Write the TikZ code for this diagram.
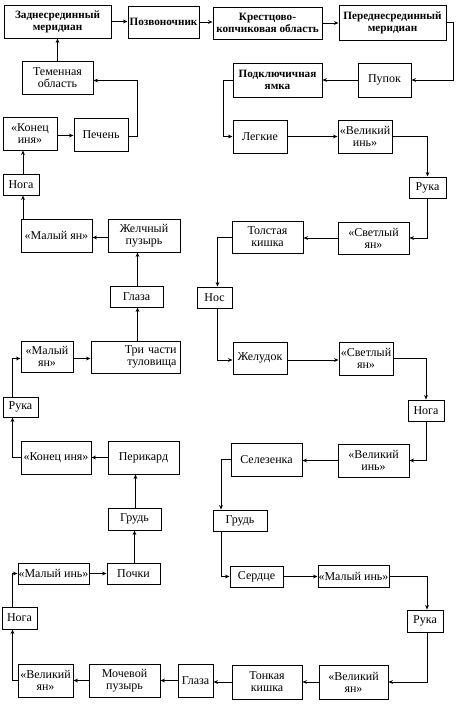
\documentclass[tikz,border=0pt]{standalone}
\usepackage{fontspec}
\setmainfont{Liberation Serif}
\usetikzlibrary{arrows.meta}
\tikzset{
  box/.style={draw, line width=1pt, inner sep=0.5pt, align=center, font=\fontsize{12}{12}\selectfont},
  bbox/.style={box, font=\bfseries\fontsize{11.2}{12}\selectfont},
  arr/.style={line width=0.75pt, -{Stealth[length=4.5pt,width=3.8pt]}},
}
\newcommand{\bx}[7][]{%
  \pgfmathsetmacro\bxcx{(#3+#5)/2}\pgfmathsetmacro\bxcy{(#4+#6)/2}%
  \pgfmathsetmacro\bxw{#5-#3}\pgfmathsetmacro\bxh{#6-#4}%
  \node[box,minimum width=\bxw pt,minimum height=\bxh pt,#1] (#2) at (\bxcx pt,-\bxcy pt) {#7};}
\begin{document}
\begin{tikzpicture}
\useasboundingbox (0,0) rectangle (460pt,-704pt);
% nodes
\bx[bbox]{zad}{4}{5}{111}{38}{Заднесрединный\\меридиан}
\bx[bbox]{poz}{128}{6}{199}{38}{Позвоночник}
\bx[bbox]{kre}{213}{7}{322}{39}{Крестцово-\\копчиковая область}
\bx[bbox]{per}{339}{5}{446}{40}{Переднесрединный\\меридиан}
\bx{tem}{22}{61}{93}{94}{Теменная\\область}
\bx[bbox]{pod}{233}{63}{322}{97}{Подключичная\\ямка}
\bx{pup}{358}{63}{411}{97}{Пупок}
\bx{kon1}{3}{117}{57}{150}{«Конец\\иня»}
\bx{pech}{74}{118}{128}{151}{Печень}
\bx{leg}{233}{120}{287}{153}{Легкие}
\bx{vin1}{338}{120}{392}{153}{«Великий\\инь»}
\bx{noga1}{3}{174}{39}{195}{Нога}
\bx{ruka1}{409}{177}{446}{198}{Рука}
\bx{mya1}{21}{219}{92}{252}{«Малый ян»}
\bx{zhel}{108}{219}{180}{252}{Желчный\\пузырь}
\bx{tol}{232}{221}{303}{253}{Толстая\\кишка}
\bx{svy1}{338}{222}{409}{254}{«Светлый\\ян»}
\bx{glaz1}{110}{286}{163}{307}{Глаза}
\bx{nos}{197}{287}{232}{308}{Нос}
\bx{mya2}{21}{341}{73}{372}{«Малый\\ян»}
\bx[align=right,text width=82pt]{tri}{91}{341}{180}{373}{Три части\\туловища}
\bx{zhe}{233}{342}{287}{374}{Желудок}
\bx{svy2}{339}{342}{393}{375}{«Светлый\\ян»}
\bx{ruka2}{3}{397}{38}{417}{Рука}
\bx{noga2}{408}{400}{444}{421}{Нога}
\bx{kon2}{21}{441}{91}{474}{«Конец иня»}
\bx{peri}{108}{441}{179}{474}{Перикард}
\bx{sel}{231}{443}{302}{476}{Селезенка}
\bx{vin2}{338}{444}{409}{477}{«Великий\\инь»}
\bx{gru1}{108}{508}{161}{530}{Грудь}
\bx{gru2}{213}{510}{267}{531}{Грудь}
\bx{min1}{18}{563}{89}{584}{«Малый инь»}
\bx{poch}{107}{563}{160}{584}{Почки}
\bx{ser}{230}{566}{283}{587}{Сердце}
\bx{min2}{318}{565}{389}{587}{«Малый инь»}
\bx{noga3}{2}{607}{37}{629}{Нога}
\bx{ruka3}{407}{610}{443}{632}{Рука}
\bx{vya1}{18}{664}{73}{697}{«Великий\\ян»}
\bx{moch}{89}{664}{160}{697}{Мочевой\\пузырь}
\bx{glaz2}{178}{664}{213}{697}{Глаза}
\bx{ton}{232}{665}{302}{699}{Тонкая\\кишка}
\bx{vya2}{319}{665}{388}{699}{«Великий\\ян»}
% connectors
\draw[arr] (zad.east) -- (zad.east -| poz.west);
\draw[arr] (poz.east) -- (poz.east -| kre.west);
\draw[arr] (kre.east) -- (kre.east -| per.west);
\draw[arr] (per.east) -- ++(7pt,0) |- (pup.east);
\draw[arr] (pup.west) -- (pup.west -| pod.east);
\draw[arr] (pod.west) -- ++(-9pt,0) |- (leg.west);
\draw[arr] (leg.east) -- (leg.east -| vin1.west);
\draw[arr] (vin1.east) -| (ruka1.north);
\draw[arr] (ruka1.south) |- (svy1.east);
\draw[arr] (svy1.west) -- (svy1.west -| tol.east);
\draw[arr] (tol.west) -| ([xshift=3pt]nos.north);
\draw[arr] ([xshift=3pt]nos.south) |- ([yshift=-2pt]zhe.west);
\draw[arr] ([yshift=-2pt]zhe.east) -- ([yshift=-2pt]zhe.east -| svy2.west);
\draw[arr] (svy2.east) -| (noga2.north);
\draw[arr] (noga2.south) |- (vin2.east);
\draw[arr] (vin2.west) -- (vin2.west -| sel.east);
\draw[arr] (sel.west) -| ([xshift=-19pt]gru2.north);
\draw[arr] ([xshift=-19pt]gru2.south) |- (ser.west);
\draw[arr] (ser.east) -- (ser.east -| min2.west);
\draw[arr] (min2.east) -| ([xshift=2pt]ruka3.north);
\draw[arr] ([xshift=2pt]ruka3.south) |- (vya2.east);
\draw[arr] (vya2.west) -- (vya2.west -| ton.east);
\draw[arr] (ton.west) -- (ton.west -| glaz2.east);
\draw[arr] (glaz2.west) -- (glaz2.west -| moch.east);
\draw[arr] (moch.west) -- (moch.west -| vya1.east);
\draw[arr] (vya1.west) -| ([xshift=-7pt]noga3.south);
\draw[arr] ([xshift=-7pt]noga3.north) |- (min1.west);
\draw[arr] (min1.east) -- (min1.east -| poch.west);
\draw[arr] ([xshift=1pt]poch.north) -- ([xshift=1pt]poch.north |- gru1.south);
\draw[arr] ([xshift=1pt]gru1.north) -- ([xshift=1pt]gru1.north |- peri.south);
\draw[arr] (peri.west) -- (peri.west -| kon2.east);
\draw[arr] (kon2.west) -| ([xshift=-8pt]ruka2.south);
\draw[arr] ([xshift=-8pt]ruka2.north) |- ([yshift=-2pt]mya2.west);
\draw[arr] ([yshift=-2pt]mya2.east) -- ([yshift=-2pt]mya2.east -| tri.west);
\draw[arr] ([xshift=2pt]tri.north) -- ([xshift=2pt]tri.north |- glaz1.south);
\draw[arr] ([xshift=2pt]tri.north |- glaz1.north) -- ([xshift=2pt]tri.north |- zhel.south);
\draw[arr] ([yshift=-2pt]zhel.west) -- ([yshift=-2pt]zhel.west -| mya1.east);
\draw[arr] ([xshift=2pt]noga1.south |- mya1.north) -- ([xshift=2pt]noga1.south);
\draw[arr] ([xshift=2pt]noga1.north) -- ([xshift=2pt]noga1.north |- kon1.south);
\draw[arr] ([yshift=-2pt]kon1.east) -- ([yshift=-2pt]kon1.east -| pech.west);
\draw[arr] ([yshift=-2pt]pech.east) -- ++(9pt,0) |- ([yshift=-3pt]tem.east);
\draw[arr] (tem.north) -- (tem.north |- zad.south);
\end{tikzpicture}
\end{document}
